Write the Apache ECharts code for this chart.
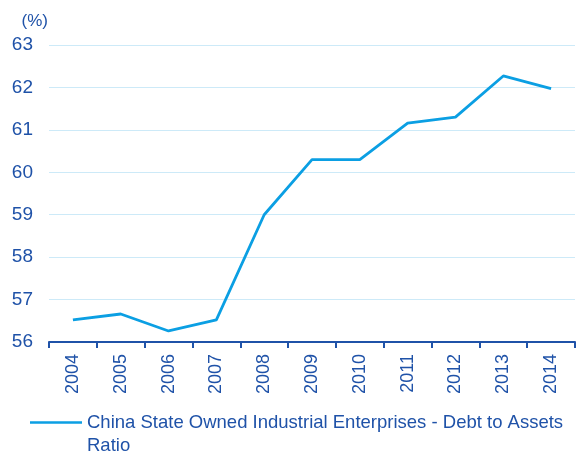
<!DOCTYPE html>
<html>
<head>
<meta charset="utf-8">
<script src="https://cdn.jsdelivr.net/npm/echarts@6/dist/echarts.min.js"></script>
<style>
  html, body { margin: 0; padding: 0; background: #fff; }
  .box { width: 576px; height: 452px; }
</style>
</head>
<body>
<div class="box"></div>
<script>
const years = ['2004', '2005', '2006', '2007', '2008', '2009', '2010', '2011', '2012', '2013', '2014'];
const debtRatio = [56.52, 56.66, 56.26, 56.52, 59.0, 60.3, 60.3, 61.16, 61.3, 62.27, 61.97];
const seriesName = 'China State Owned Industrial Enterprises - Debt to Assets Ratio';

const darkBlue = '#1f52a8';
const lineBlue = '#0b9fe3';
const font = 'Liberation Sans, Arial, sans-serif';

// legend icon: line on the first text row, tiny corner dots keep the box 56x46
const legendIcon = 'path://M0,0 L0.01,0 L0,0.01 Z M4,10.3 L56,10.3 L56,12.8 L4,12.8 Z M0,46 L0.01,46 L0,45.99 Z';

const chartDom = document.getElementsByClassName('box')[0];
const myChart = echarts.init(chartDom);

const option = {
    animation: false,
    grid: {
        left: 49,
        right: 1,
        top: 45,
        bottom: 110
    },
    legend: {
        left: 21,
        top: 406,
        itemWidth: 56,
        itemHeight: 46,
        itemGap: 0,
        icon: legendIcon,
        textStyle: {
            color: darkBlue,
            fontFamily: font,
            fontSize: 18.5,
            width: 485,
            overflow: 'break',
            lineHeight: 23
        },
        data: [seriesName]
    },
    xAxis: {
        type: 'category',
        data: years,
        boundaryGap: true,
        axisLine: { lineStyle: { color: darkBlue, width: 2 } },
        axisTick: { show: true, length: 6, lineStyle: { color: darkBlue, width: 2 } },
        axisLabel: {
            rotate: 90,
            margin: 12,
            color: darkBlue,
            fontFamily: font,
            fontSize: 18
        },
        splitLine: { show: false }
    },
    yAxis: {
        type: 'value',
        min: 56,
        max: 63,
        interval: 1,
        name: '(%)',
        nameLocation: 'end',
        nameGap: 15,
        nameTextStyle: {
            color: darkBlue,
            fontFamily: font,
            fontSize: 17,
            align: 'right',
            padding: [0, 1, 0, 0]
        },
        axisLine: { show: false },
        axisTick: { show: false },
        axisLabel: {
            margin: 16,
            color: darkBlue,
            fontFamily: font,
            fontSize: 19
        },
        splitLine: { lineStyle: { color: '#cdeaf8', width: 1 } }
    },
    series: [
        {
            name: seriesName,
            type: 'line',
            data: debtRatio,
            symbol: 'none',
            lineStyle: { color: lineBlue, width: 2.8 },
            itemStyle: { color: lineBlue }
        }
    ]
};

myChart.setOption(option);
</script>
</body>
</html>
